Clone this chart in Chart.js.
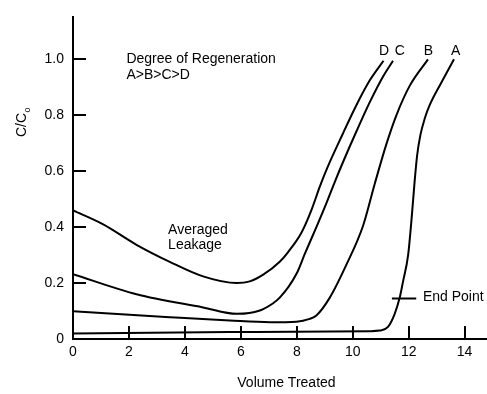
<!DOCTYPE html>
<html><head><meta charset="utf-8">
<script src="https://cdn.jsdelivr.net/npm/chart.js@4/dist/chart.umd.min.js"></script>
<style>html,body{margin:0;padding:0;background:#fff}canvas{display:block}</style>
</head><body>
<canvas id="c" width="487" height="394"></canvas>
<script>
// ---- data ----
const xTickValues = [0, 2, 4, 6, 8, 10, 12, 14];
const yTickValues = [0, 0.2, 0.4, 0.6, 0.8, 1.0];

const volA = [0, 5.6, 10.6, 10.96, 11.26, 11.5, 11.68, 11.80, 11.98, 12.10, 12.21, 12.30, 12.42, 12.58, 12.75, 13.17, 13.62];
const ccA  = [0.020, 0.025, 0.028, 0.030, 0.043, 0.090, 0.148, 0.206, 0.300, 0.425, 0.560, 0.655, 0.730, 0.790, 0.836, 0.917, 1.0];

const volB = [0, 3.46, 5.6, 7.04, 7.99, 8.46, 8.7, 9.18, 9.77, 10.37, 10.79, 11.2, 11.56, 12.04, 12.69];
const ccB  = [0.099, 0.078, 0.066, 0.060, 0.062, 0.072, 0.084, 0.148, 0.265, 0.405, 0.556, 0.696, 0.800, 0.906, 1.0];

const volC = [0, 2.27, 4.65, 5.85, 6.3, 6.8, 7.39, 8.0, 8.29, 8.70, 9.06, 9.36, 9.65, 10.13, 10.61, 11.08, 11.44];
const ccC  = [0.232, 0.160, 0.113, 0.090, 0.093, 0.107, 0.148, 0.235, 0.305, 0.400, 0.486, 0.562, 0.632, 0.742, 0.847, 0.938, 0.995];

const volD = [0, 1.08, 2.27, 3.46, 4.65, 5.85, 6.32, 6.8, 7.39, 7.69, 8.17, 8.53, 8.82, 9.06, 9.65, 10.13, 10.61, 11.1];
const ccD  = [0.460, 0.410, 0.337, 0.276, 0.224, 0.200, 0.206, 0.230, 0.276, 0.311, 0.381, 0.463, 0.544, 0.605, 0.735, 0.836, 0.925, 0.995];

const curveNames = ['A', 'B', 'C', 'D'];
const curveLabelX = [13.68, 12.71, 11.68, 11.12];
const curveLabelY = 1.031;

const FAMILY = '"Liberation Sans", Arial, Helvetica, sans-serif';
const FONT = '14px ' + FAMILY;

function pts(xs, ys) { return xs.map((x, i) => ({ x: x, y: ys[i] })); }
function ds(name, xs, ys) {
  return { label: name, data: pts(xs, ys), borderColor: '#000', borderWidth: 2, pointRadius: 0,
           fill: false, cubicInterpolationMode: 'monotone', showLine: true };
}

const decor = {
  id: 'decor',
  afterDraw(chart) {
    const ctx = chart.ctx, xs = chart.scales.x, ys = chart.scales.y, ca = chart.chartArea;
    ctx.save();
    ctx.strokeStyle = '#000'; ctx.fillStyle = '#000'; ctx.lineWidth = 2;
    // inward tick marks
    yTickValues.forEach(v => { if (v === 0) return; const py = Math.round(ys.getPixelForValue(v));
      ctx.beginPath(); ctx.moveTo(ca.left, py); ctx.lineTo(ca.left + 13, py); ctx.stroke(); });
    xTickValues.forEach(v => { if (v === 0) return; const px = Math.round(xs.getPixelForValue(v));
      ctx.beginPath(); ctx.moveTo(px, ca.bottom); ctx.lineTo(px, ca.bottom - 13); ctx.stroke(); });
    // end point marker
    const ey = Math.round(ys.getPixelForValue(0.147)) + 0.5;
    ctx.beginPath(); ctx.moveTo(xs.getPixelForValue(11.4), ey); ctx.lineTo(xs.getPixelForValue(12.27), ey); ctx.stroke();
    // texts
    ctx.font = FONT; ctx.textBaseline = 'middle'; ctx.textAlign = 'left';
    ctx.fillText('Degree of Regeneration', xs.getPixelForValue(1.91), ys.getPixelForValue(1.001));
    ctx.fillText('A>B>C>D', xs.getPixelForValue(1.91), ys.getPixelForValue(0.943));
    ctx.fillText('Averaged', xs.getPixelForValue(3.40), ys.getPixelForValue(0.390));
    ctx.fillText('Leakage', xs.getPixelForValue(3.40), ys.getPixelForValue(0.334));
    ctx.fillText('End Point', xs.getPixelForValue(12.51), ys.getPixelForValue(0.148));
    ctx.textAlign = 'center';
    curveNames.forEach((n, i) => ctx.fillText(n, xs.getPixelForValue(curveLabelX[i]), ys.getPixelForValue(curveLabelY)));
    // axis titles
    ctx.fillText('Volume Treated', xs.getPixelForValue(7.63), ca.bottom + 44);
    ctx.translate(26, 137); ctx.rotate(-Math.PI / 2);
    ctx.textAlign = 'left'; ctx.textBaseline = 'alphabetic';
    ctx.fillText('C/C', 0, 0);
    const w = ctx.measureText('C/C').width;
    ctx.font = '9px ' + FAMILY;
    ctx.fillText('o', w + 0.5, 3.5);
    ctx.restore();
  }
};

new Chart(document.getElementById('c'), {
  type: 'scatter',
  data: { datasets: [ds('A', volA, ccA), ds('B', volB, ccB), ds('C', volC, ccC), ds('D', volD, ccD)] },
  options: {
    responsive: false, animation: false, devicePixelRatio: 1,
    layout: { padding: { top: 10, right: 0, left: 0, bottom: 0 } },
    plugins: { legend: { display: false }, tooltip: { enabled: false } },
    scales: {
      x: {
        type: 'linear', min: 0, max: 14.8,
        afterBuildTicks: s => { s.ticks = xTickValues.map(v => ({ value: v })); },
        afterFit: s => { s.height = 55; },
        grid: { display: true, drawOnChartArea: false, drawTicks: false },
        border: { display: true, color: '#000', width: 2 },
        ticks: { color: '#000', font: { family: FAMILY, size: 14 }, padding: 5,
                 maxRotation: 0, autoSkip: false, callback: v => String(v) }
      },
      y: {
        type: 'linear', min: 0, max: 1.15,
        afterBuildTicks: s => { s.ticks = yTickValues.map(v => ({ value: v })); },
        afterFit: s => { s.width = 73; },
        grid: { display: true, drawOnChartArea: false, drawTicks: false },
        border: { display: true, color: '#000', width: 2 },
        ticks: { color: '#000', font: { family: FAMILY, size: 14 }, padding: 9,
                 callback: v => v === 0 ? '0' : v.toFixed(1) }
      }
    }
  },
  plugins: [decor]
});
</script>
</body></html>
